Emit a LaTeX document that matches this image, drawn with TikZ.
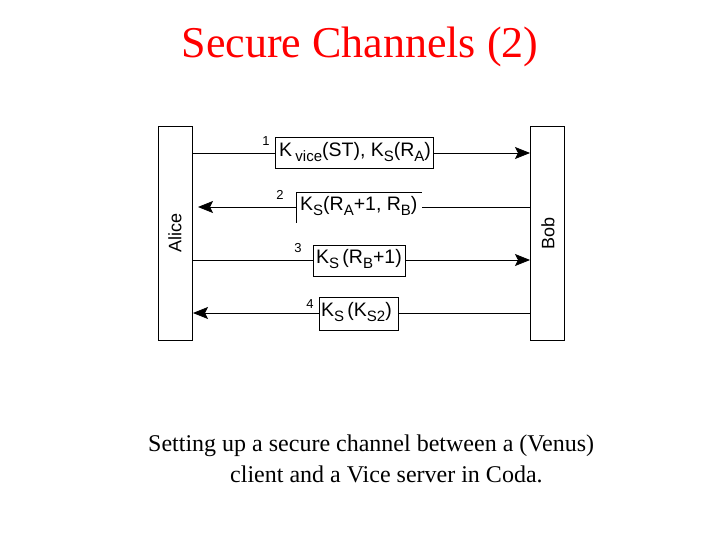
\documentclass[tikz,border=0pt]{standalone}
\usepackage{fontspec}
\setmainfont{Liberation Serif}
\newfontfamily\arial{Liberation Sans}
\usetikzlibrary{arrows.meta}
\newcommand\sbx[1]{\raisebox{-0.45ex}{\fontsize{15}{16}\selectfont #1}}
\begin{document}
\begin{tikzpicture}[x=1pt,y=-1pt,
  party/.style={draw,line width=0.8pt},
  msg/.style={line width=0.8pt},
  tipr/.style={-{Stealth[length=15pt,width=12pt,inset=3pt]}},
  lbl/.style={font=\arial\fontsize{19.5}{20}\selectfont,inner sep=0pt},
  num/.style={font=\arial\fontsize{13}{14}\selectfont,inner sep=0pt}]
\useasboundingbox (0,0) rectangle (720,540);
\node[font=\fontsize{44}{48}\selectfont,text=red] (title) at (360,47) {Secure Channels (2)};
\draw[party] (158,126) rectangle (192,340);
\draw[party] (530,126) rectangle (564,340);
\node[rotate=90,font=\arial\fontsize{18}{19}\selectfont,inner sep=0pt] (alice) at (175,233) {Alice};
\node[rotate=90,font=\arial\fontsize{18}{19}\selectfont,inner sep=0pt] (bob) at (548,233) {Bob};
\coordinate (a1) at (192,153); \coordinate (b1) at (530,153);
\coordinate (a2) at (192,207); \coordinate (b2) at (530,207);
\coordinate (a3) at (192,260); \coordinate (b3) at (530,260);
\coordinate (a4) at (192,313); \coordinate (b4) at (530,313);
\draw[msg,tipr] (a1) -- (b1);
\draw[msg,tipr,shorten >=6pt] (b2) -- (a2);
\draw[msg,tipr] (a3) -- (b3);
\draw[msg,tipr,shorten >=1pt] (b4) -- (a4);
\fill[white] (275,137) rectangle (433,168);
\draw[line width=0.8pt] (275,137) rectangle (433,168);
\node[lbl,anchor=west] (m1) at (279,152) {K\,\sbx{vice}(ST), K\sbx{S}(R\sbx{A})};
\fill[white] (296,192) rectangle (422,223);
\draw[line width=0.8pt] (296,223) -- (296,192) -- (422,192);
\node[lbl,anchor=west] (m2) at (300,206) {K\sbx{S}(R\sbx{A}+1, R\sbx{B})};
\fill[white] (313,245) rectangle (405,276);
\draw[line width=0.8pt] (313,245) rectangle (405,276);
\node[lbl,anchor=west] (m3) at (316,259) {K\sbx{S}\,(R\sbx{B}+1)};
\fill[white] (319,297) rectangle (398,330);
\draw[line width=0.8pt] (319,297) rectangle (398,330);
\node[lbl,anchor=west] (m4) at (321,312) {K\sbx{S}\,(K\sbx{S2})};
\node[num] (n1) at (266,141) {1};
\node[num] (n2) at (280,195) {2};
\node[num] (n3) at (298,248) {3};
\node[num] (n4) at (310,304) {4};
\node[font=\fontsize{24}{31}\selectfont,anchor=north west,inner sep=0pt,align=left] (cap) at (148,435) {Setting up a secure channel between a (Venus)\\\hspace*{82pt}client and a Vice server in Coda.};
\end{tikzpicture}
\end{document}
